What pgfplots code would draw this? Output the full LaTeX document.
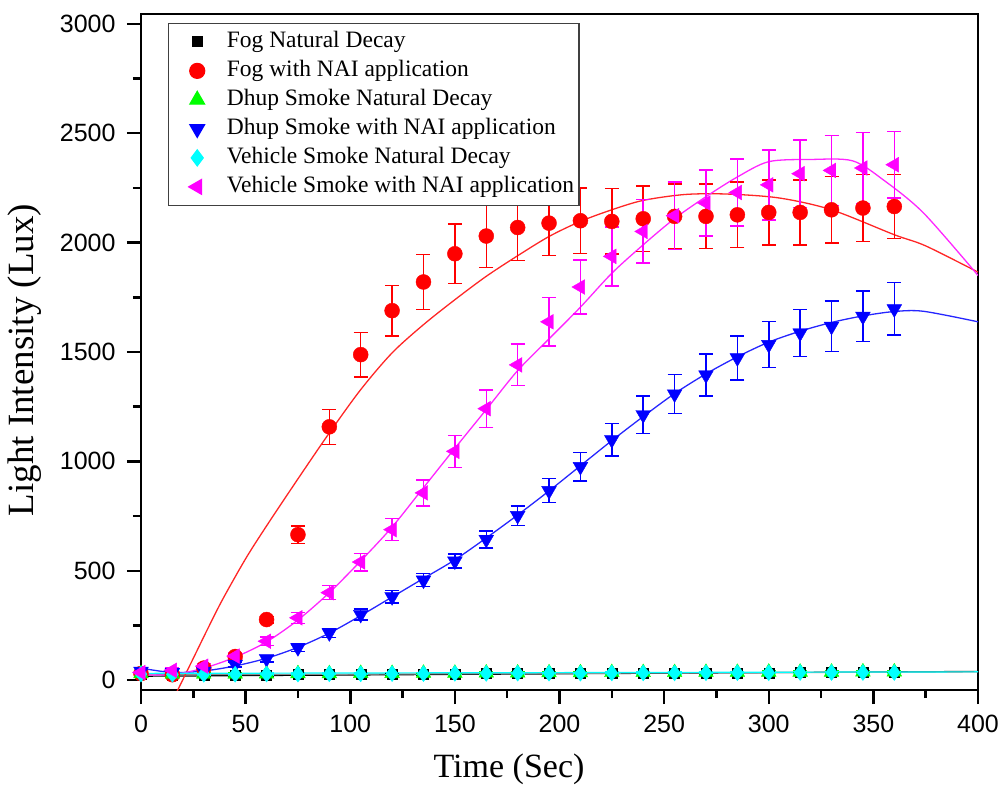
\documentclass[border=0pt]{standalone}
\usepackage{pgfplots}
\usepackage{pgfplotstable}
\pgfplotsset{compat=1.18}
\usepackage{fontspec}
\setmainfont{Liberation Serif}
\newfontfamily\sansf{Liberation Sans}

\definecolor{cred}{RGB}{255,0,0}
\definecolor{cblue}{RGB}{0,0,255}
\definecolor{cmag}{RGB}{255,0,255}
\definecolor{cgreen}{RGB}{0,255,0}
\definecolor{ccyan}{RGB}{0,255,255}

\pgfplotstableread{
x y e
0 25 4
15 22 4
30 22 4
45 22 4
60 24 4
75 25 4
90 26 4
105 27 4
120 28 4
135 28 4
150 29 4
165 30 4
180 30 4
195 31 4
210 31 4
225 32 4
240 32 4
255 33 4
270 33 4
285 34 4
300 34 4
315 35 4
330 35 4
345 36 4
360 36 4
}\fognat

\pgfplotstableread{
x y e
0 30 10
15 25 10
30 55 10
45 108 15
60 277 15
75 665 40
90 1158 80
105 1488 102
120 1689 115
135 1820 125
150 1949 137
165 2030 143
180 2069 150
195 2089 147
210 2100 150
225 2097 150
240 2109 150
255 2120 148
270 2120 148
285 2127 149
300 2138 148
315 2138 148
330 2150 152
345 2158 153
360 2165 147
}\fognai

\pgfplotstableread{
x y e
0 30 4
15 28 4
30 28 4
45 28 4
60 29 4
75 30 4
90 30 4
105 31 4
120 31 4
135 32 4
150 32 4
165 33 4
180 33 4
195 34 4
210 34 4
225 35 4
240 35 4
255 35 4
270 36 4
285 36 4
300 37 4
315 37 4
330 37 4
345 38 4
360 38 4
}\dhupnat

\pgfplotstableread{
x y e
0 40 10
15 35 10
30 40 10
45 72 12
60 98 15
75 148 18
90 216 20
105 300 25
120 381 28
135 457 30
150 544 32
165 643 38
180 752 45
195 866 55
210 976 65
225 1099 75
240 1213 85
255 1308 90
270 1395 95
285 1473 100
300 1534 105
315 1587 108
330 1617 115
345 1663 115
360 1697 120
}\dhupnai

\pgfplotstableread{
x y e
0 28 4
15 27 4
30 27 4
45 27 4
60 28 4
75 28 4
90 29 4
105 29 4
120 30 4
135 30 4
150 31 4
165 31 4
180 32 4
195 32 4
210 32 4
225 33 4
240 33 4
255 33 4
270 34 4
285 34 4
300 34 4
315 35 4
330 35 4
345 35 4
360 35 4
}\vehnat

\pgfplotstableread{
x y e
0 35 10
15 45 10
30 64 12
45 110 15
60 178 20
75 285 25
90 400 32
105 540 40
120 688 50
135 856 60
150 1046 73
165 1241 85
180 1441 95
195 1638 110
210 1797 123
225 1937 135
240 2051 145
255 2123 154
270 2181 150
285 2229 153
300 2264 160
315 2315 155
330 2330 160
345 2341 163
360 2356 152
}\vehnai

\pgfplotstableread{
x y
17 -56
25 100
32 237
39 369
50 555
60 705
75 920
90 1130
105 1328
120 1496
135 1625
150 1739
165 1846
180 1940
195 2028
210 2097
225 2150
240 2193
260 2220
280 2222
305 2204
330 2150
360 2036
375 1985
400 1865
}\fognaifit

\pgfplotstableread{
x y
0 55
15 35
30 42
45 65
60 100
75 150
90 215
105 295
120 380
135 465
150 550
165 650
180 755
195 865
210 980
225 1095
240 1205
255 1310
270 1400
285 1478
300 1545
315 1595
330 1635
345 1665
360 1685
374 1686
400 1638
}\dhupnaifit

\pgfplotstableread{
x y
0 25
15 25
30 55
45 105
60 175
75 275
90 400
105 545
120 700
135 880
150 1060
165 1237
180 1415
195 1560
210 1705
225 1860
240 1990
255 2110
270 2210
285 2300
300 2370
320 2380
340 2374
355 2285
374 2135
400 1850
}\vehnaifit

\begin{document}
\begin{tikzpicture}
\begin{axis}[
  scale only axis, width=837bp, height=676bp,
  xmin=0, xmax=400, ymin=-45, ymax=3045,
  xtick={0,50,...,400}, ytick={0,500,...,3000},
  minor x tick num=1, minor y tick num=1,
  xtick pos=left, ytick pos=left,
  tick align=outside,
  major tick length=14bp, minor tick length=8bp,
  every tick/.style={black, line width=2.5bp},
  axis line style={line width=2.5bp},
  tick label style={font=\sansf\fontsize{25bp}{30bp}\selectfont},
  xticklabel shift={8bp}, yticklabel shift={8bp},
  /pgf/number format/assume math mode=true,
  /pgf/number format/1000 sep={},
  xlabel={Time (Sec)},
  xlabel style={at={(axis description cs:0.4397,-0.1169)}, anchor=center, font=\fontsize{34bp}{40bp}\selectfont},
  ylabel={Light Intensity (Lux)},
  ylabel style={at={(axis description cs:-0.1386,0.488)}, anchor=center, font=\fontsize{37bp}{44bp}\selectfont},
  legend style={at={(axis description cs:0.0323,0.987)}, anchor=north west, draw=black!75, line width=1.2bp,
    font=\fontsize{23.5bp}{28bp}\selectfont, inner xsep=5bp, inner ysep=7bp, row sep=6bp,
    cells={anchor=west}, nodes={inner sep=0bp, text height=17bp, text depth=6bp},
    /tikz/every odd column/.append style={column sep=15bp}},
  legend cell align=left,
  legend image code/.code={\path (0bp,0bp) (37bp,0bp); \draw[#1] plot coordinates {(23bp,0bp)};},
  error bars/y dir=both, error bars/y explicit,
  error bars/error bar style={line width=1.5bp},
  error bars/error mark options={rotate=90, mark size=7bp, line width=1.5bp},
]
% fit curves
\addplot[forget plot, black, line width=1.2bp] coordinates {(0,18) (400,40)};
\addplot[forget plot, black!45, line width=1.2bp] coordinates {(0,24) (400,38)};
\addplot[forget plot, cred!85, line width=1.3bp, smooth] table[x=x,y=y] {\fognaifit};
\addplot[forget plot, cblue!85, line width=1.3bp, smooth] table[x=x,y=y] {\dhupnaifit};
\addplot[forget plot, cmag!85, line width=1.3bp, smooth] table[x=x,y=y] {\vehnaifit};
\addplot[forget plot, ccyan, line width=1.2bp] coordinates {(0,31) (400,38)};
% data
\addplot[only marks, black, mark=square*, mark size=5bp] table[x=x,y=y,y error=e] {\fognat};
\addlegendentry{Fog Natural Decay}
\addplot[only marks, cred, mark=*, mark size=7.5bp] table[x=x,y=y,y error=e] {\fognai};
\addlegendentry{Fog with NAI application}
\addplot[only marks, cgreen, mark=triangle*, mark size=8.5bp] table[x=x,y=y,y error=e] {\dhupnat};
\addlegendentry{Dhup Smoke Natural Decay}
\addplot[only marks, cblue, mark=triangle*, mark size=8.5bp, mark options={rotate=180}] table[x=x,y=y,y error=e] {\dhupnai};
\addlegendentry{Dhup Smoke with NAI application}
\addplot[only marks, ccyan, mark=diamond*, mark size=8bp] table[x=x,y=y,y error=e] {\vehnat};
\addlegendentry{Vehicle Smoke Natural Decay}
\addplot[only marks, cmag, mark=triangle*, mark size=8.5bp, mark options={rotate=90}] table[x=x,y=y,y error=e] {\vehnai};
\addlegendentry{Vehicle Smoke with NAI application}
\end{axis}
\pgfresetboundingbox
\path ([shift={(-141bp,-95bp)}]current axis.south west) rectangle ([shift={(26bp,14bp)}]current axis.north east);
\end{tikzpicture}
\end{document}
